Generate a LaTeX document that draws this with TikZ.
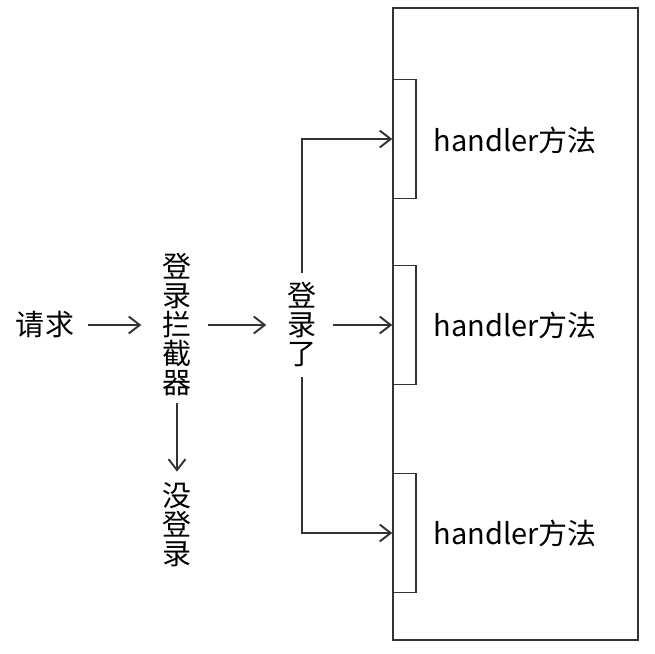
\documentclass[tikz,border=0pt]{standalone}
\usepackage{fontspec}
\setmainfont{Noto Sans CJK SC}
\usetikzlibrary{arrows.meta}

\begin{document}
\begin{tikzpicture}[x=1pt,y=-1pt]
    \tikzset{
      lbl/.style={font=\fontsize{29}{29}\selectfont, inner sep=0pt, align=center},
      slot/.style={draw=black!80, line width=1.5pt, minimum width=23pt,
                   minimum height=119pt, inner sep=0pt},
      flow/.style={draw=black!80, line width=1.9pt,
                   -{Straight Barb[length=11pt,width=17pt]}},
    }
    \useasboundingbox (0,0) rectangle (655,653);
    % the box holding the handler methods
    \node[draw=black!80, line width=1.5pt, minimum width=245pt,
          minimum height=632pt, inner sep=0pt] (Box) at (515.5,324) {};
    \node[slot] (HOne)   at (404.5,139) {};
    \node[slot] (HTwo)   at (404.5,325) {};
    \node[slot] (HThree) at (404.5,533) {};
    \node[lbl] (TOne)   at (515,140) {handler方法};
    \node[lbl] (TTwo)   at (515,325) {handler方法};
    \node[lbl] (TThree) at (515,533) {handler方法};

    \node[lbl] (Req)    at (45,325)  {请求};
    \node[lbl] (Intc)   at (177,325) {登\\录\\拦\\截\\器};
    \node[lbl] (Logged) at (302,325) {登\\录\\了};
    \node[lbl] (NoLog)  at (177,525) {没\\登\\录};

    \draw[flow, shorten <=14pt, shorten >=21pt] (Req.east) -- (Intc.west);
    \draw[flow, shorten <=16pt, shorten >=21pt] (Intc.east) -- (Logged.west);
    \draw[flow, shorten <=6pt, shorten >=11pt] (Intc.south) -- (NoLog.north);
    % logged in: on to one of the handlers
    \draw[flow, shorten <=16pt] (Logged.east) -- (HTwo.west);
    \draw[flow, shorten <=9pt] (Logged.north) |- (HOne.west);
    \draw[flow, shorten <=9pt] (Logged.south) |- (HThree.west);
\end{tikzpicture}
\end{document}
